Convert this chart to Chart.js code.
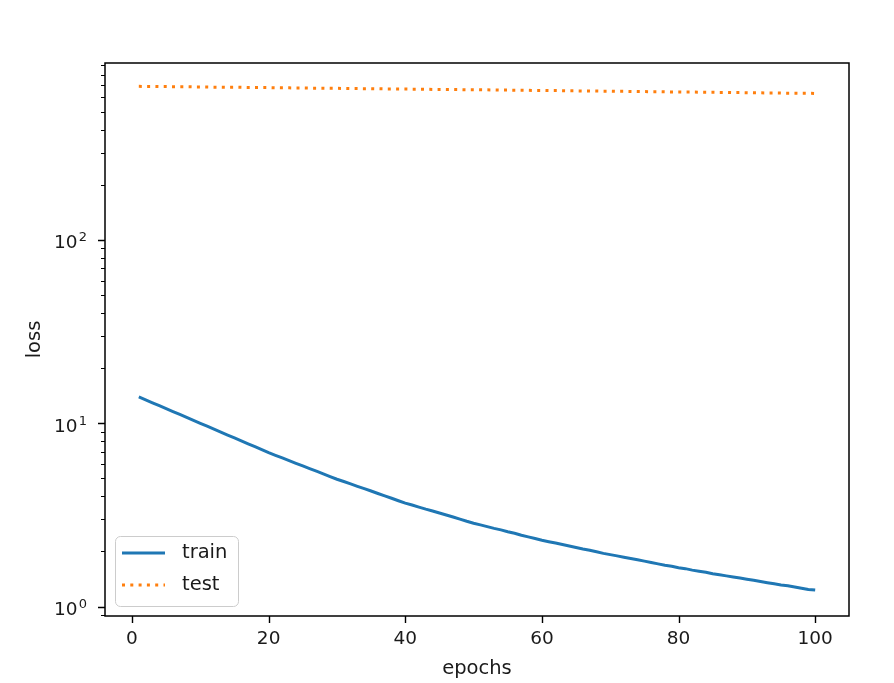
<!DOCTYPE html>
<html>
<head>
<meta charset="utf-8">
<script src="https://cdn.jsdelivr.net/npm/chart.js@4/dist/chart.umd.min.js"></script>
<style>
  html, body { margin: 0; padding: 0; background: #fff; }
  canvas { display: block; }
</style>
</head>
<body>
<canvas id="chart" width="894" height="683"></canvas>
<script>
// values
const epochs = [
  1, 2, 3, 4, 5, 6, 7, 8, 9, 10, 11, 12, 13, 14, 15, 16, 17, 18, 19, 20,
  21, 22, 23, 24, 25, 26, 27, 28, 29, 30, 31, 32, 33, 34, 35, 36, 37, 38, 39, 40,
  41, 42, 43, 44, 45, 46, 47, 48, 49, 50, 51, 52, 53, 54, 55, 56, 57, 58, 59, 60,
  61, 62, 63, 64, 65, 66, 67, 68, 69, 70, 71, 72, 73, 74, 75, 76, 77, 78, 79, 80,
  81, 82, 83, 84, 85, 86, 87, 88, 89, 90, 91, 92, 93, 94, 95, 96, 97, 98, 99, 100
];

const trainLoss = [
  13.93, 13.43, 12.94, 12.47, 12.02, 11.59, 11.17, 10.76, 10.38, 10.00,
  9.64, 9.29, 8.95, 8.63, 8.32, 8.02, 7.73, 7.45, 7.18, 6.92,
  6.69, 6.47, 6.26, 6.05, 5.85, 5.66, 5.48, 5.30, 5.12, 4.95,
  4.81, 4.67, 4.53, 4.40, 4.27, 4.14, 4.02, 3.90, 3.78, 3.67,
  3.58, 3.49, 3.40, 3.32, 3.24, 3.16, 3.08, 3.00, 2.92, 2.85,
  2.79, 2.73, 2.67, 2.62, 2.56, 2.51, 2.45, 2.40, 2.35, 2.30,
  2.26, 2.22, 2.18, 2.14, 2.10, 2.06, 2.03, 1.99, 1.95, 1.92,
  1.89, 1.86, 1.83, 1.80, 1.77, 1.74, 1.71, 1.68, 1.66, 1.63,
  1.61, 1.58, 1.56, 1.54, 1.51, 1.49, 1.47, 1.45, 1.43, 1.41,
  1.39, 1.37, 1.35, 1.33, 1.31, 1.30, 1.28, 1.26, 1.24, 1.23
];

const testLoss = [
  690, 689, 689, 688, 688, 687, 686, 686, 685, 685,
  684, 683, 683, 682, 682, 681, 680, 680, 679, 679,
  678, 677, 677, 676, 676, 675, 674, 674, 673, 673,
  672, 671, 671, 670, 670, 669, 668, 668, 667, 667,
  666, 666, 665, 664, 664, 663, 663, 662, 661, 661,
  660, 660, 659, 658, 658, 657, 657, 656, 655, 655,
  654, 654, 653, 652, 652, 651, 651, 650, 649, 649,
  648, 648, 647, 646, 646, 645, 645, 644, 643, 643,
  642, 642, 641, 640, 640, 639, 639, 638, 638, 637,
  636, 636, 635, 635, 634, 633, 633, 632, 632, 631
];

const seriesNames = ['train', 'test'];
const xTicks = [0, 20, 40, 60, 80, 100];
const yMajorTicks = [1, 10, 100];
const yTickBase = '10';
const yTickExponents = ['0', '1', '2'];
const yMinorTicks = [0.9, 2, 3, 4, 5, 6, 7, 8, 9, 20, 30, 40, 50, 60, 70, 80, 90,
                     200, 300, 400, 500, 600, 700, 800, 900];

const FONT = 'DejaVu Sans';
const TEXT = '#1a1a1a';

// matplotlib-like frame, tick marks, log tick labels and legend
const axesFrame = {
  id: 'axesFrame',
  afterDraw(chart) {
    const { ctx, chartArea: a, scales } = chart;
    ctx.save();
    ctx.strokeStyle = '#000';
    ctx.lineWidth = 1.5;
    ctx.strokeRect(a.left, a.top, a.right - a.left, a.bottom - a.top);

    ctx.lineWidth = 1.4;
    ctx.beginPath();
    xTicks.forEach((v) => {
      const x = Math.round(scales.x.getPixelForValue(v)) + 0.5;
      ctx.moveTo(x, a.bottom);
      ctx.lineTo(x, a.bottom + 7);
    });
    yMajorTicks.forEach((v) => {
      const y = Math.round(scales.y.getPixelForValue(v)) + 0.5;
      ctx.moveTo(a.left, y);
      ctx.lineTo(a.left - 7, y);
    });
    ctx.stroke();

    ctx.lineWidth = 1.1;
    ctx.beginPath();
    yMinorTicks.forEach((v) => {
      const y = Math.round(scales.y.getPixelForValue(v)) + 0.5;
      ctx.moveTo(a.left, y);
      ctx.lineTo(a.left - 4, y);
    });
    ctx.stroke();

    // y tick labels as 10 with a raised exponent
    ctx.fillStyle = TEXT;
    ctx.textAlign = 'right';
    ctx.textBaseline = 'alphabetic';
    yMajorTicks.forEach((v, i) => {
      const y = scales.y.getPixelForValue(v);
      const xr = a.left - 18;
      ctx.font = '13px "' + FONT + '"';
      const ew = ctx.measureText(yTickExponents[i]).width;
      ctx.fillText(yTickExponents[i], xr, y + 1.3);
      ctx.font = '18.5px "' + FONT + '"';
      ctx.fillText(yTickBase, xr - ew - 1.2, y + 8.4);
    });

    // legend, lower left
    const bx = a.left + 10, by = a.bottom - 80, bw = 123, bh = 70;
    ctx.beginPath();
    ctx.roundRect(bx + 0.5, by + 0.5, bw, bh, 5);
    ctx.fillStyle = 'rgba(255,255,255,0.8)';
    ctx.fill();
    ctx.strokeStyle = '#cccccc';
    ctx.lineWidth = 1;
    ctx.stroke();

    chart.data.datasets.forEach((ds, i) => {
      const y = by + 17 + i * 32;
      ctx.beginPath();
      ctx.strokeStyle = ds.borderColor;
      ctx.lineWidth = ds.borderWidth;
      ctx.lineCap = 'butt';
      ctx.setLineDash(ds.borderDash || []);
      ctx.moveTo(bx + 7, y);
      ctx.lineTo(bx + 50, y);
      ctx.stroke();
      ctx.setLineDash([]);
      ctx.fillStyle = TEXT;
      ctx.font = '19.5px "' + FONT + '"';
      ctx.textAlign = 'left';
      ctx.textBaseline = 'middle';
      ctx.fillText(ds.label, bx + 67, y);
    });
    ctx.restore();
  }
};

const ctx = document.getElementById('chart').getContext('2d');
new Chart(ctx, {
  type: 'line',
  data: {
    datasets: [
      {
        label: seriesNames[0],
        data: epochs.map((e, i) => ({ x: e, y: trainLoss[i] })),
        borderColor: '#1f77b4',
        borderWidth: 3,
        pointRadius: 0,
        tension: 0,
        fill: false,
      },
      {
        label: seriesNames[1],
        data: epochs.map((e, i) => ({ x: e, y: testLoss[i] })),
        borderColor: '#ff7f0e',
        borderWidth: 3,
        borderDash: [3, 5.3],
        borderCapStyle: 'butt',
        pointRadius: 0,
        tension: 0,
        fill: false,
      }
    ]
  },
  options: {
    responsive: false,
    devicePixelRatio: 1,
    animation: false,
    layout: { padding: { top: 63, right: 45, left: 0, bottom: 0 } },
    plugins: {
      legend: { display: false },
      tooltip: { enabled: false },
    },
    scales: {
      x: {
        type: 'linear',
        min: -3.95,
        max: 104.95,
        afterFit: (scale) => { scale.height = 67; },
        afterBuildTicks: (scale) => { scale.ticks = xTicks.map((v) => ({ value: v })); },
        grid: { display: false, drawTicks: false },
        border: { display: false },
        ticks: {
          autoSkip: false,
          maxRotation: 0,
          padding: 12,
          color: TEXT,
          font: { family: FONT, size: 18.5 },
        },
        title: {
          display: true,
          text: 'epochs',
          color: TEXT,
          font: { family: FONT, size: 19.5 },
          padding: { top: 0, bottom: 2 },
        },
      },
      y: {
        type: 'logarithmic',
        min: 0.888,
        max: 925,
        afterFit: (scale) => { scale.width = 105; },
        afterBuildTicks: (scale) => { scale.ticks = yMajorTicks.map((v) => ({ value: v })); },
        grid: { display: false, drawTicks: false },
        border: { display: false },
        ticks: { display: false },
        title: {
          display: true,
          text: 'loss',
          color: TEXT,
          font: { family: FONT, size: 19.5 },
          padding: { top: 23, bottom: 0 },
        },
      },
    },
  },
  plugins: [axesFrame],
});
</script>
</body>
</html>
